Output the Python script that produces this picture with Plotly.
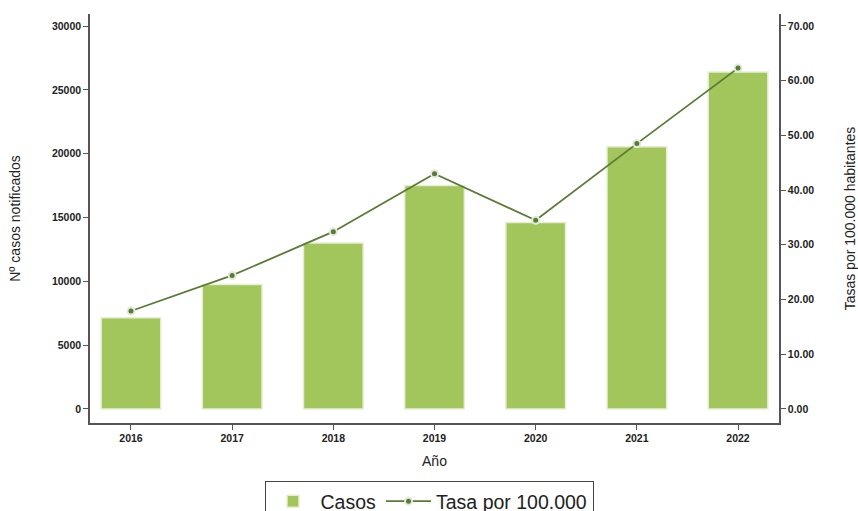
import plotly.graph_objects as go

years = ["2016", "2017", "2018", "2019", "2020", "2021", "2022"]
casos = [7150, 9750, 13000, 17500, 14600, 20550, 26400]
tasa = [17.9, 24.4, 32.4, 43.0, 34.5, 48.5, 62.3]

bar_color = "#a2c55c"
line_color = "#5b7a36"
axis_color = "#555555"

fig = go.Figure()
fig.add_trace(go.Bar(
    x=years, y=casos, name="Casos", width=0.59,
    marker=dict(color=bar_color, line=dict(color="#e6efd6", width=1.5)),
    yaxis="y",
))
fig.add_trace(go.Scatter(
    x=years, y=tasa, name="Tasa por 100.000", mode="lines+markers",
    line=dict(color=line_color, width=1.8),
    marker=dict(color=line_color, size=7, line=dict(color="#e4eadb", width=2)),
    yaxis="y2",
))

tick_font = dict(family="Liberation Sans, Arial, sans-serif", size=10.5, color="#222222", weight="bold")
title_font = dict(family="Liberation Sans, Arial, sans-serif", size=14, color="#222222")

fig.update_layout(
    width=858, height=511,
    margin=dict(l=90, r=79, t=14, b=88, autoexpand=False),
    plot_bgcolor="white", paper_bgcolor="white",
    showlegend=True,
    legend=dict(
        orientation="h", x=0.5, xanchor="center", xref="container",
        y=0.0587, yanchor="top", yref="container",
        bordercolor="#444444", borderwidth=1,
        font=dict(family="Liberation Sans, Arial, sans-serif", size=19.5, color="#222222"),
        itemwidth=45,
    ),
    xaxis=dict(
        type="category", range=[-0.405, 6.405], automargin=False,
        showline=True, linecolor=axis_color, linewidth=1.5,
        ticks="outside", ticklen=5, tickcolor=axis_color,
        tickfont=tick_font, showgrid=False,
        title=dict(text="Año", font=title_font, standoff=13),
    ),
    yaxis=dict(
        range=[-1100, 30940], tickvals=[0, 5000, 10000, 15000, 20000, 25000, 30000],
        tickformat="d", automargin=False,
        showline=True, linecolor=axis_color, linewidth=1.5,
        ticks="outside", ticklen=5, tickcolor=axis_color,
        tickfont=tick_font, showgrid=False, zeroline=False,
        title=dict(text="Nº casos notificados", font=title_font, standoff=28),
    ),
    yaxis2=dict(
        overlaying="y", side="right", automargin=False,
        range=[-2.57, 72.19], tickvals=[0, 10, 20, 30, 40, 50, 60, 70], tickformat=".2f",
        showline=True, linecolor=axis_color, linewidth=1.5,
        ticks="outside", ticklen=5, tickcolor=axis_color,
        tickfont=tick_font, showgrid=False, zeroline=False,
        title=dict(text="Tasas por 100.000 habitantes", font=title_font, standoff=35),
    ),
)

fig.write_html("out.html", config={"displayModeBar": False},
               post_script="document.body.style.margin='0';")
